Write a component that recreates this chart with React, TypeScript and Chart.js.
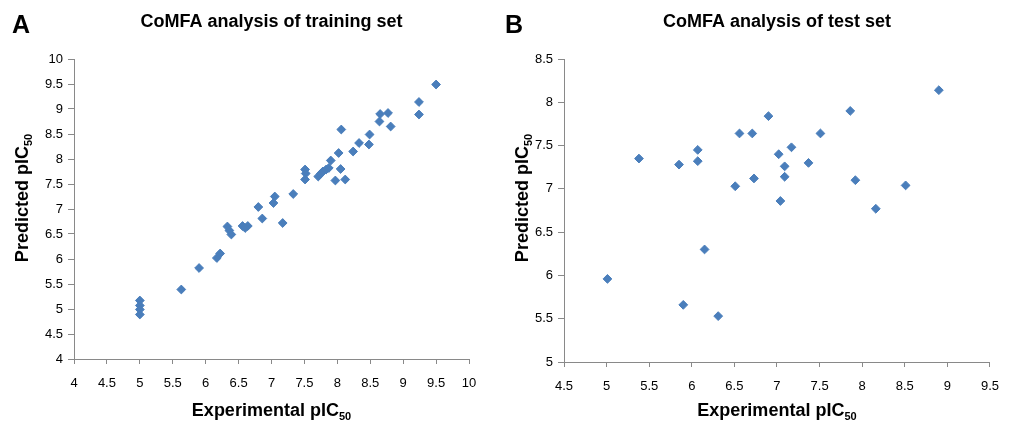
import React, { useEffect, useRef } from "react";
import { Chart, registerables } from "chart.js";

Chart.register(...registerables);

// ---- Data ----
const trainExp = [5.0, 5.0, 5.0, 5.0, 5.63, 5.9, 6.17, 6.22, 6.33, 6.36, 6.39, 6.56, 6.64, 6.6, 6.8, 6.86, 7.03, 7.05, 7.17, 7.33, 7.51, 7.52, 7.51, 7.71, 7.75, 7.78, 7.83, 7.87, 7.9, 7.97, 8.02, 8.05, 8.06, 8.12, 8.24, 8.33, 8.48, 8.49, 8.64, 8.65, 8.77, 8.81, 9.24, 9.24, 9.5];
const trainPred = [5.17, 5.07, 4.99, 4.89, 5.39, 5.82, 6.02, 6.11, 6.65, 6.57, 6.49, 6.66, 6.66, 6.62, 7.04, 6.81, 7.12, 7.25, 6.72, 7.3, 7.79, 7.71, 7.59, 7.65, 7.71, 7.75, 7.79, 7.82, 7.97, 7.57, 8.12, 7.8, 8.59, 7.59, 8.15, 8.32, 8.29, 8.49, 8.75, 8.9, 8.92, 8.65, 9.14, 8.89, 9.49];

const testExp = [5.01, 5.38, 5.85, 5.9, 6.07, 6.07, 6.15, 6.31, 6.51, 6.56, 6.71, 6.73, 6.9, 7.02, 7.04, 7.09, 7.09, 7.17, 7.37, 7.51, 7.86, 7.92, 8.16, 8.51, 8.9];
const testPred = [5.96, 7.35, 7.28, 5.66, 7.45, 7.32, 6.3, 5.53, 7.03, 7.64, 7.64, 7.12, 7.84, 7.4, 6.86, 7.26, 7.14, 7.48, 7.3, 7.64, 7.9, 7.1, 6.77, 7.04, 8.14];

const trainXRange = [4, 10];
const trainYRange = [4, 10];
const testXRange = [4.5, 9.5];
const testYRange = [5, 8.5];
const tickStep = 0.5;

const panelLetters = ["A", "B"];
const chartTitles = ["CoMFA analysis of training set", "CoMFA analysis of test set"];
const xTitleMain = "Experimental pIC";
const yTitleMain = "Predicted pIC";
const titleSub = "50";

const MARKER = "#4A7EBB";
const AXIS = "#898989";
const FONT = "'Liberation Sans', Arial, sans-serif";

type Cfg = {
  xs: number[];
  ys: number[];
  xr: number[];
  yr: number[];
  letter: string;
  title: string;
  width: number;
  area: { left: number; right: number; top: number; bottom: number };
  letterX: number;
  yTitleX: number;
};

function drawSub(ctx: CanvasRenderingContext2D, main: string, sub: string, cx: number, cy: number) {
  ctx.font = `bold 18px ${FONT}`;
  const wm = ctx.measureText(main).width;
  ctx.font = `bold 11px ${FONT}`;
  const ws = ctx.measureText(sub).width;
  const start = cx - (wm + ws) / 2;
  ctx.textAlign = "left";
  ctx.textBaseline = "alphabetic";
  ctx.font = `bold 18px ${FONT}`;
  ctx.fillText(main, start, cy + 6);
  ctx.font = `bold 11px ${FONT}`;
  ctx.fillText(sub, start + wm, cy + 10);
}

function Panel({ cfg, left }: { cfg: Cfg; left: number }) {
  const ref = useRef<HTMLCanvasElement | null>(null);
  useEffect(() => {
    if (!ref.current) return;
    const H = 426;
    const a = cfg.area;
    const textPlugin = {
      id: "texts",
      afterDraw(chart: any) {
        const ctx = chart.ctx as CanvasRenderingContext2D;
        const ca = chart.chartArea;
        ctx.save();
        ctx.fillStyle = "#000";
        ctx.font = `bold 25px ${FONT}`;
        ctx.textAlign = "left";
        ctx.textBaseline = "alphabetic";
        ctx.fillText(cfg.letter, cfg.letterX, 33);
        ctx.font = `bold 18px ${FONT}`;
        ctx.textAlign = "center";
        ctx.textBaseline = "middle";
        ctx.fillText(cfg.title, (ca.left + ca.right) / 2, 22);
        drawSub(ctx, xTitleMain, titleSub, (ca.left + ca.right) / 2, 410);
        ctx.translate(cfg.yTitleX, 198);
        ctx.rotate(-Math.PI / 2);
        drawSub(ctx, yTitleMain, titleSub, 0, 0);
        ctx.restore();
      },
    };
    const chart = new Chart(ref.current, {
      type: "scatter",
      data: {
        datasets: [
          {
            data: cfg.xs.map((x, i) => ({ x, y: cfg.ys[i] })),
            pointStyle: "rectRot",
            pointRadius: 4.4,
            pointBackgroundColor: MARKER,
            pointBorderColor: MARKER,
            pointBorderWidth: 1,
          },
        ],
      },
      options: {
        animation: false,
        responsive: false,
        devicePixelRatio: 1,
        layout: { padding: { left: 0, top: a.top, right: cfg.width - a.right, bottom: 0 } },
        plugins: { legend: { display: false }, tooltip: { enabled: false }, title: { display: false } },
        scales: {
          x: {
            type: "linear",
            min: cfg.xr[0],
            max: cfg.xr[1],
            afterFit: (s: any) => {
              s.height = H - a.bottom;
            },
            border: { color: AXIS, width: 1 },
            grid: { drawOnChartArea: false, drawTicks: true, tickLength: 5, color: AXIS },
            ticks: {
              stepSize: tickStep,
              autoSkip: false,
              maxRotation: 0,
              padding: 12,
              color: "#000",
              font: { family: FONT, size: 13 },
              callback: (v: any) => String(v),
            },
          },
          y: {
            type: "linear",
            min: cfg.yr[0],
            max: cfg.yr[1],
            afterFit: (s: any) => {
              s.width = a.left;
            },
            border: { color: AXIS, width: 1 },
            grid: { drawOnChartArea: false, drawTicks: true, tickLength: 6, color: AXIS },
            ticks: {
              stepSize: tickStep,
              autoSkip: false,
              padding: 5,
              color: "#000",
              font: { family: FONT, size: 13 },
              callback: (v: any) => String(v),
            },
          },
        },
      },
      plugins: [textPlugin],
    });
    return () => chart.destroy();
  }, [cfg]);
  return (
    <canvas
      ref={ref}
      width={cfg.width}
      height={426}
      style={{ position: "absolute", left, top: 0, width: cfg.width, height: 426 }}
    />
  );
}

const leftCfg: Cfg = {
  xs: trainExp,
  ys: trainPred,
  xr: trainXRange,
  yr: trainYRange,
  letter: panelLetters[0],
  title: chartTitles[0],
  width: 500,
  area: { left: 74, right: 469, top: 59, bottom: 359 },
  letterX: 12,
  yTitleX: 22,
};

const rightCfg: Cfg = {
  xs: testExp,
  ys: testPred,
  xr: testXRange,
  yr: testYRange,
  letter: panelLetters[1],
  title: chartTitles[1],
  width: 511,
  area: { left: 64, right: 498, top: 59, bottom: 362 },
  letterX: 5,
  yTitleX: 22,
};

export default function App() {
  return (
    <div style={{ position: "fixed", left: 0, top: 0, width: 1011, height: 426, background: "#fff" }}>
      <Panel cfg={leftCfg} left={0} />
      <Panel cfg={rightCfg} left={500} />
    </div>
  );
}
